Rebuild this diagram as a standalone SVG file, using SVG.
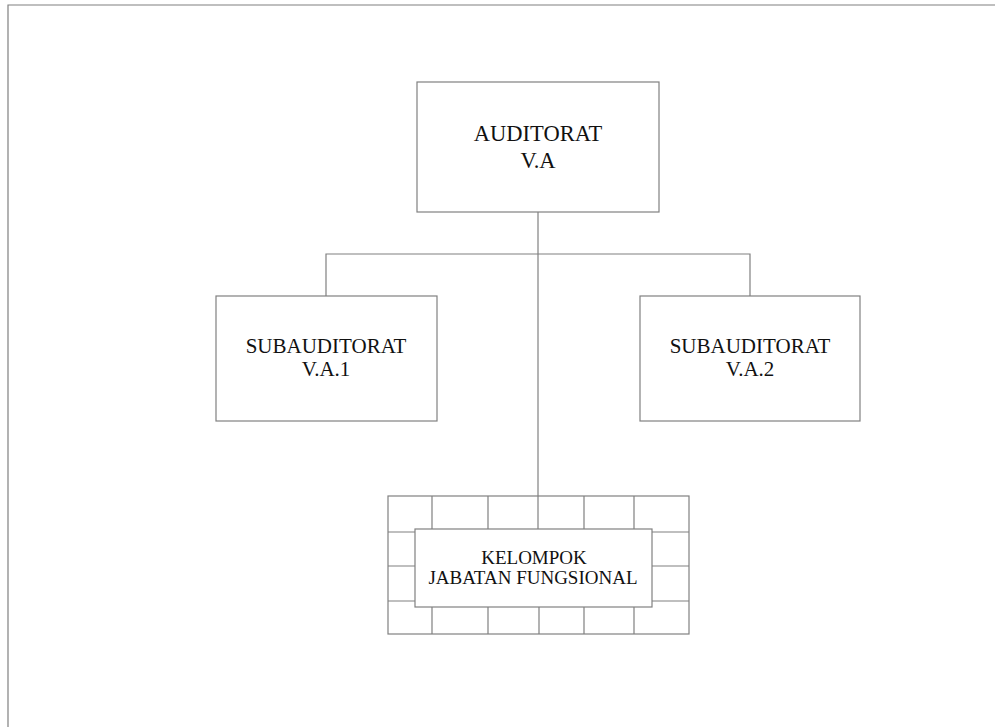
<svg xmlns="http://www.w3.org/2000/svg" width="995" height="727" viewBox="0 0 995 727">
<style>
.b{fill:#fff;stroke:#808080;stroke-width:1.2}
.l{fill:none;stroke:#808080;stroke-width:1.2}
.t{font-family:"Liberation Serif","Times New Roman",serif;fill:#111;text-anchor:middle}
</style>
<rect width="995" height="727" fill="#fff"/>
<g id="frame"><path class="l" d="M8 727V5H995" stroke-width="2"/></g>
<g id="auditorat">
<rect class="b" x="417" y="82" width="242" height="130"/>
<text class="t" x="538" y="141" font-size="22.5">AUDITORAT</text>
<text class="t" x="538" y="168" font-size="22.5">V.A</text>
</g>
<g id="sub1">
<rect class="b" x="216" y="296" width="221" height="125"/>
<text class="t" x="326" y="353" font-size="21">SUBAUDITORAT</text>
<text class="t" x="326" y="376" font-size="21">V.A.1</text>
</g>
<g id="sub2">
<rect class="b" x="640" y="296" width="220" height="125"/>
<text class="t" x="750" y="353" font-size="21">SUBAUDITORAT</text>
<text class="t" x="750" y="376" font-size="21">V.A.2</text>
</g>
<g id="kelompok">
<rect class="b" x="388" y="496" width="301" height="138"/>
<path class="l" d="M432 496V529M488 496V529M584 496V529M634 496V529M432 607V634M488 607V634M539 607V634M584 607V634M634 607V634M388 532H415M388 566H415M388 601H415M652 532H689M652 566H689M652 601H689"/>
<rect class="b" x="415" y="529" width="237" height="78"/>
<text class="t" x="534" y="564" font-size="19">KELOMPOK</text>
<text class="t" x="533" y="584" font-size="19">JABATAN FUNGSIONAL</text>
</g>
<g id="connectors">
<path class="l" d="M538 212V529"/>
<path class="l" d="M326 296V254H750V296"/>
</g>
</svg>
